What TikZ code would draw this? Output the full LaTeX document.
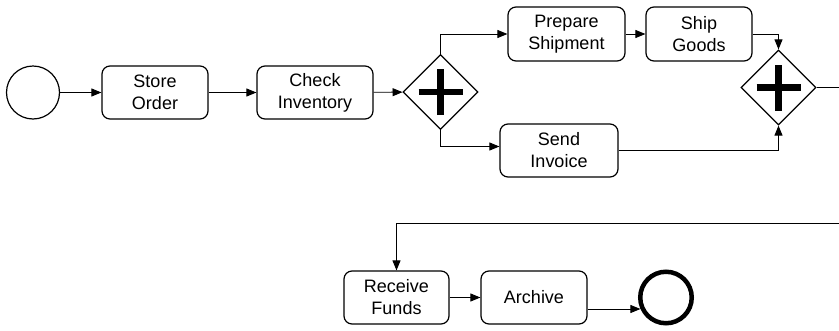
\documentclass[tikz,border=0pt]{standalone}
\usepackage{fontspec}
\setmainfont{Liberation Sans}
\usetikzlibrary{shapes.geometric,arrows.meta}
\begin{document}
\begin{tikzpicture}[x=1pt,y=-1pt,
  task/.style={draw, rounded corners=8pt, line width=1.2pt, align=center,
    font=\fontsize{18}{22}\selectfont, inner sep=0pt, minimum height=53pt},
  gway/.style={draw, diamond, aspect=1, minimum size=75pt, inner sep=0pt, line width=1.2pt},
  plusbar/.style={line width=6.5pt},
  flow/.style={line width=0.9pt, -{Triangle[length=10pt,width=8pt]}},
  plainflow/.style={line width=0.9pt}]
\useasboundingbox (0,0) rectangle (839,330);
\node[draw, circle, line width=1.2pt, minimum size=53pt, inner sep=0pt] (start) at (33,92.5) {};
\node[task, minimum width=106pt] (store) at (155,92.5) {Store\\Order};
\node[task, minimum width=116pt] (check) at (315,92.5) {Check\\Inventory};
\node[gway] (gw1) at (440.5,92) {};
\node[task, minimum width=117pt, minimum height=54pt] (prep) at (566.5,34) {Prepare\\Shipment};
\node[task, minimum width=106pt, minimum height=54pt] (ship) at (699,34) {Ship\\Goods};
\node[task, minimum width=118pt] (invoice) at (559,150.5) {Send\\Invoice};
\node[gway] (gw2) at (778.5,87.5) {};
\node[task, minimum width=105pt] (receive) at (396.5,297.5) {Receive\\Funds};
\node[task, minimum width=106pt] (archive) at (534,297.5) {Archive};
\node[draw, circle, line width=4.5pt, minimum size=51.5pt, inner sep=0pt] (end) at (666,297.5) {};
\coordinate (out) at (839,87.5);
\coordinate (in) at (839,223);
% plus signs
\foreach \g in {gw1,gw2}{
  \draw[plusbar] ([xshift=-22pt]\g.center) -- ([xshift=22pt]\g.center);
  \draw[plusbar] ([yshift=-23pt]\g.center) -- ([yshift=23pt]\g.center);
}
\draw[flow] (start) -- (store);
\draw[flow] (store) -- (check);
\draw[flow] (check) -- (gw1);
\draw[flow] (gw1.north) |- (prep.west);
\draw[flow] (gw1.south) |- ([yshift=4pt]invoice.west);
\draw[flow] (prep) -- (ship);
\draw[flow] (ship.east) -| (gw2.north);
\draw[flow] (invoice.east) -| (gw2.south);
\draw[plainflow] (gw2.east) -- (out);
\draw[flow] (in) -| (receive.north);
\draw[flow] (receive) -- (archive);
\draw[flow] ([yshift=-11.5pt]archive.east) -- ([yshift=-11.5pt]archive.east -| end.204);
\end{tikzpicture}
\end{document}
